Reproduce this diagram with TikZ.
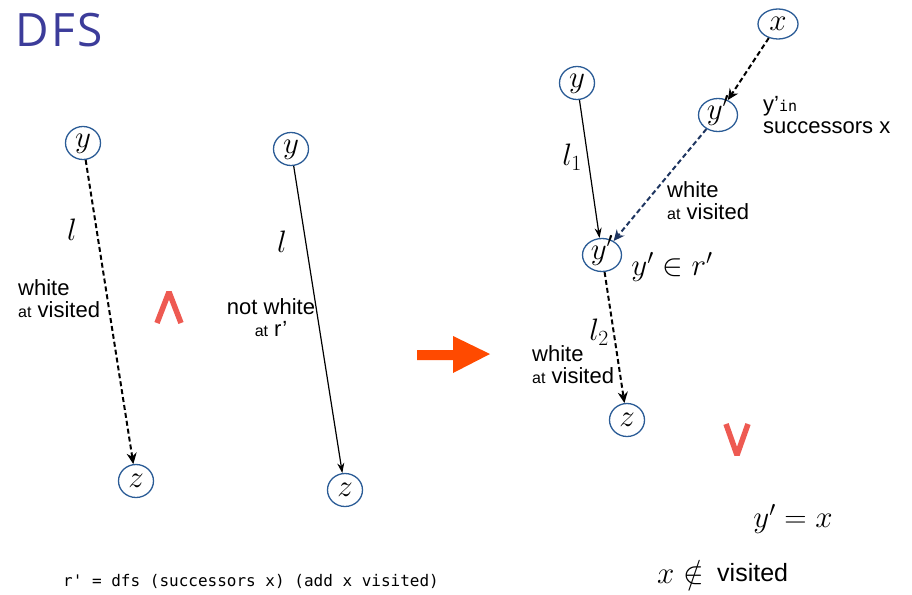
\RequirePackage{fix-cm}
\documentclass[tikz,border=0pt]{standalone}
\usepackage{amsmath,amssymb}
\usepackage{fontspec}
\usepackage{tikz}
\usetikzlibrary{arrows.meta,shapes.geometric}
\usepackage{xcolor}
\newfontfamily\titlefont[LetterSpace=6]{Open Sans}
\newfontfamily\labelfont{Liberation Sans}
\newfontfamily\codefont{DejaVu Sans Mono}
\definecolor{titleblue}{HTML}{3C3C9A}
\definecolor{nodeblue}{HTML}{2B5C96}
\definecolor{navy}{HTML}{1E3560}
\definecolor{markred}{HTML}{EE5A52}
\definecolor{bigarrow}{HTML}{FF4A00}
\newcommand{\atword}{{\fontsize{16}{18}\selectfont at}}

\begin{document}
\begin{tikzpicture}[x=1pt, y=-1pt,
  vertex/.style={ellipse, draw=nodeblue, line width=1.3pt, minimum width=35pt,
    minimum height=33pt, inner sep=0pt, text height=12pt, text depth=4pt,
    font=\fontsize{31}{33}\selectfont},
  flatvertex/.style={vertex, text height=13pt, text depth=0pt},
  mathlabel/.style={inner sep=0pt, font=\fontsize{31}{33}\selectfont},
  note/.style={inner sep=0pt, align=left, font=\labelfont\fontsize{22}{22}\selectfont},
  dashedarrow/.style={-{Stealth[length=11pt,width=10pt]}, line width=2pt, dash pattern=on 5pt off 3pt},
  plainarrow/.style={-{Stealth[length=10pt,width=7pt]}, line width=1.2pt},
  redmark/.style={markred, line width=5.5pt, line join=bevel}]
\useasboundingbox (0,0) rectangle (912,594);
\node[anchor=base west, inner sep=0pt, text=titleblue, font=\titlefont\fontsize{46}{50}\selectfont] (title) at (15,47) {DFS};
% Left: dashed path
\node[vertex] (ly) at (83,143) {$y$};
\node[flatvertex] (lz) at (136,481) {$z$};
\draw[dashedarrow] (ly) -- (lz);
\node[mathlabel] (ll) at (72,230) {$l$};
\node[note, anchor=west] (lnote) at (18,299) {white\\\atword\ visited};
\draw[redmark] (157,323) -- (169,292) -- (181,323);
% Middle: solid path
\node[vertex] (my) at (291,149) {$y$};
\node[flatvertex] (mz) at (345,490) {$z$};
\draw[plainarrow] (my) -- (mz);
\node[mathlabel] (ml) at (282,242) {$l$};
\node[note, align=center] (mnote) at (271,318) {not white\\\atword\ r’};
% Big arrow
\fill[bigarrow] (417,350) -- (453,350) -- (453,336) -- (490,354) -- (453,373) -- (453,360) -- (417,360) -- cycle;
% Right: split at y'
\node[flatvertex, minimum width=40pt, minimum height=30pt] (rx) at (778,24) {$x$};
\node[vertex, minimum width=39pt] (ryp) at (718,115) {$y'$};
\node[vertex] (ry) at (577,83) {$y$};
\node[vertex, minimum width=39pt] (rym) at (602,255) {$y'$};
\node[flatvertex] (rz) at (627,420) {$z$};
\draw[dashedarrow] (rx) -- (ryp);
\draw[dashedarrow, navy] (ryp) -- (rym);
\draw[plainarrow] (ry) -- (rym);
\draw[dashedarrow] (rym) -- (rz);
\node[mathlabel] (l1) at (572,157) {$l_1$};
\node[mathlabel] (l2) at (599,332) {$l_2$};
\node[note, anchor=west] (succ) at (763,115) {y’{\codefont\fontsize{15}{16}\selectfont in}\\successors x};
\node[note, anchor=west] (rnote) at (667,201) {white\\\atword\ visited};
\node[mathlabel] (inr) at (672,267) {$y'\in r'$};
\node[note, anchor=west] (lonote) at (532,365) {white\\\atword\ visited};
\draw[redmark] (726,424) -- (737,455) -- (748,424);
\node[mathlabel] (eqx) at (793,519) {$y'=x$};
\node[mathlabel, anchor=west] (notin) at (657,572) {$x\notin$};
\node[note, anchor=west, font=\labelfont\fontsize{25}{26}\selectfont] (vis) at (717,573) {visited};
% Code line
\node[anchor=west, inner sep=0pt, font=\codefont\fontsize{16}{18}\selectfont] (code) at (63,581) {r' = dfs (successors x) (add x visited)};
\end{tikzpicture}
\end{document}
